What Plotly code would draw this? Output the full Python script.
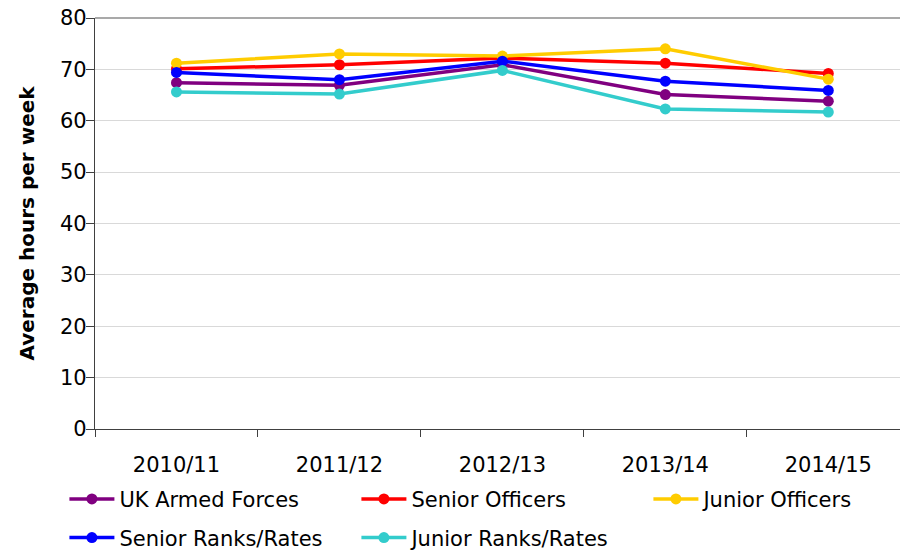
import plotly.graph_objects as go

years = ["2010/11", "2011/12", "2012/13", "2013/14", "2014/15"]
uk_armed_forces = [67.4, 66.9, 70.9, 65.1, 63.8]
senior_officers = [70.1, 70.9, 72.2, 71.2, 69.2]
junior_officers = [71.2, 73.0, 72.6, 74.0, 68.1]
senior_ranks = [69.4, 68.0, 71.6, 67.7, 65.9]
junior_ranks = [65.6, 65.2, 69.8, 62.3, 61.7]

y_ticks = [0, 10, 20, 30, 40, 50, 60, 70, 80]

series = [
    ("UK Armed Forces", uk_armed_forces, "#800080", "legend", 232),
    ("Senior Officers", senior_officers, "#FF0000", "legend", 232),
    ("Junior Officers", junior_officers, "#FFCC00", "legend", 170),
    ("Senior Ranks/Rates", senior_ranks, "#0000FF", "legend2", 232),
    ("Junior Ranks/Rates", junior_ranks, "#33CCCC", "legend2", 200),
]

FONT = "DejaVu Sans, Arial, sans-serif"

fig = go.Figure()
for name, vals, col, lg, lw in series:
    fig.add_trace(go.Scatter(
        x=years, y=vals, name=name, mode="lines+markers",
        line=dict(color=col, width=3.5),
        marker=dict(color=col, size=11),
        legend=lg, legendwidth=lw,
    ))

leg_common = dict(orientation="h", x=-0.038, xanchor="left", yanchor="middle",
                  entrywidthmode="pixels", font=dict(size=21), itemwidth=45,
                  traceorder="normal", bgcolor="rgba(0,0,0,0)")

fig.update_layout(
    width=900, height=559,
    margin=dict(l=95, r=0, t=18, b=119),
    paper_bgcolor="white", plot_bgcolor="white",
    font=dict(family=FONT, size=21, color="black"),
    legend=dict(y=-0.171, **leg_common),
    legend2=dict(y=-0.265, **leg_common),
    showlegend=True,
)

fig.update_xaxes(
    type="category", range=[-0.5, 4.44], automargin=False,
    showline=True, linecolor="#404040", linewidth=1.3,
    ticks="outside", tickson="boundaries", ticklen=7, tickcolor="#404040",
    showgrid=False, ticklabelstandoff=17,
    tickfont=dict(size=21),
)
fig.update_yaxes(
    range=[0, 80], tickvals=y_ticks, automargin=False,
    showline=True, linecolor="#404040", linewidth=1.3,
    ticks="outside", ticklen=8, tickcolor="#404040",
    showgrid=True, gridcolor="#D9D9D9", gridwidth=1,
    zeroline=False, tickfont=dict(size=21), ticklabelstandoff=-5,
    title=dict(text="<b>Average hours per week</b>", font=dict(size=20), standoff=19),
)

fig.add_shape(type="line", xref="paper", yref="y domain", x0=0, x1=1, y0=1, y1=1,
              line=dict(color="#8C8C8C", width=1.5))

fig.write_html(
    "out.html",
    config={"displayModeBar": False},
    post_script="document.body.style.margin='0';document.body.style.overflow='hidden';",
)
